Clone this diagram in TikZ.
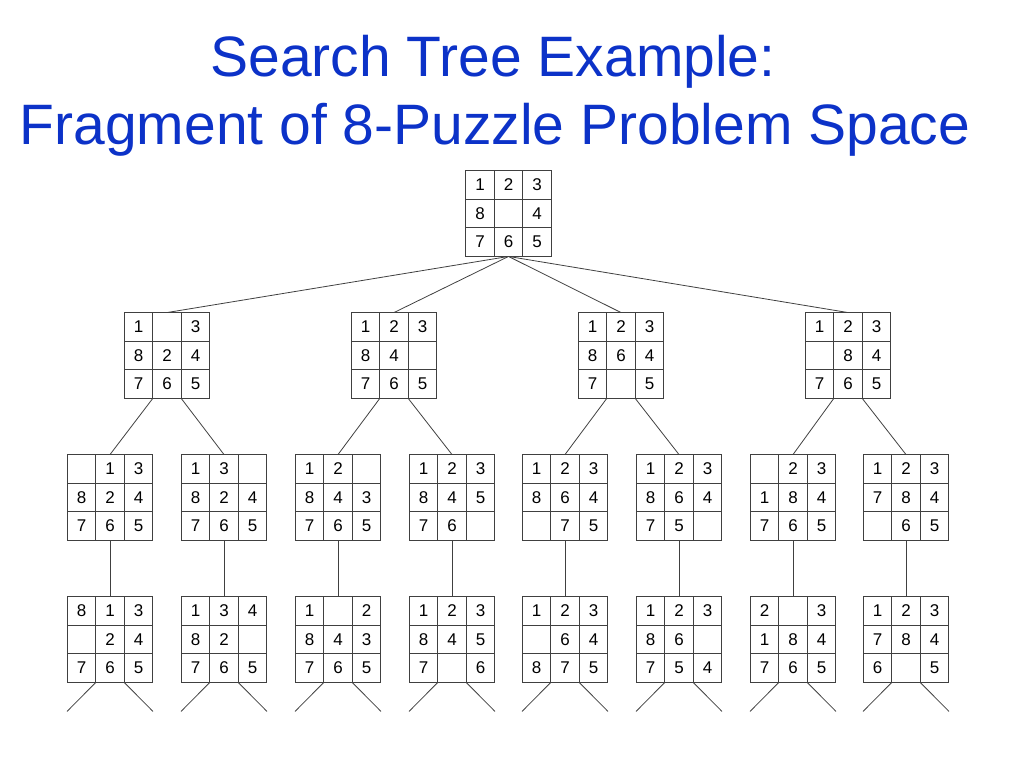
\documentclass[tikz,border=0pt]{standalone}
\usepackage{fontspec}
\setmainfont{Liberation Sans}
\usetikzlibrary{calc}
\definecolor{ttl}{RGB}{12,50,200}
\newcommand\puz[4]{%
 \node[pz] (#1) at (#2,#3) {};
 \begin{scope}[shift={(#2,#3)}]
  \draw[gl] (-42.75,-42.75) rectangle (42.75,42.75);
  \draw[gl] (-14.25,-42.75) -- (-14.25,42.75) (14.25,-42.75) -- (14.25,42.75)
            (-42.75,-14.25) -- (42.75,-14.25) (-42.75,14.25) -- (42.75,14.25);
  \foreach \v [count=\i from 0] in {#4} {
   \pgfmathtruncatemacro\c{mod(\i,3)}
   \pgfmathtruncatemacro\r{int(\i/3)}
   \node[dg] at ({(\c-1)*28.5},{(\r-1)*28.5}) {\v};
  }
 \end{scope}}
\begin{document}
\begin{tikzpicture}[x=1pt,y=-1pt,
 pz/.style={minimum size=85.5pt,inner sep=0pt},
 gl/.style={line width=0.8pt,black!75},
 dg/.style={font=\fontsize{17}{17}\selectfont,inner sep=0pt},
 cn/.style={line width=0.8pt,black!75},
 ttlf/.style={text=ttl,font=\fontsize{57}{57}\selectfont}]
\useasboundingbox (0,0) rectangle (1024,768);
\node[ttlf] (t1) at (493,62) {Search Tree Example:};
\node[ttlf] (t2) at (495,130) {Fragment of 8-Puzzle Problem Space};
\puz{r}{508.5}{213.5}{1,2,3,8,{},4,7,6,5}
\puz{a}{167}{355.5}{1,{},3,8,2,4,7,6,5}
\puz{b}{394}{355.5}{1,2,3,8,4,{},7,6,5}
\puz{c}{621}{355.5}{1,2,3,8,6,4,7,{},5}
\puz{d}{848}{355.5}{1,2,3,{},8,4,7,6,5}
\puz{a1}{110}{497.5}{{},1,3,8,2,4,7,6,5}
\puz{a2}{224}{497.5}{1,3,{},8,2,4,7,6,5}
\puz{b1}{338}{497.5}{1,2,{},8,4,3,7,6,5}
\puz{b2}{452}{497.5}{1,2,3,8,4,5,7,6,{}}
\puz{c1}{565}{497.5}{1,2,3,8,6,4,{},7,5}
\puz{c2}{679}{497.5}{1,2,3,8,6,4,7,5,{}}
\puz{d1}{793}{497.5}{{},2,3,1,8,4,7,6,5}
\puz{d2}{906}{497.5}{1,2,3,7,8,4,{},6,5}
\puz{a1x}{110}{639.5}{8,1,3,{},2,4,7,6,5}
\puz{a2x}{224}{639.5}{1,3,4,8,2,{},7,6,5}
\puz{b1x}{338}{639.5}{1,{},2,8,4,3,7,6,5}
\puz{b2x}{452}{639.5}{1,2,3,8,4,5,7,{},6}
\puz{c1x}{565}{639.5}{1,2,3,{},6,4,8,7,5}
\puz{c2x}{679}{639.5}{1,2,3,8,6,{},7,5,4}
\puz{d1x}{793}{639.5}{2,{},3,1,8,4,7,6,5}
\puz{d2x}{906}{639.5}{1,2,3,7,8,4,6,{},5}
\foreach \k in {a,b,c,d} \draw[cn] (r.south) -- (\k.north);
\foreach \p/\l/\rr in {a/a1/a2,b/b1/b2,c/c1/c2,d/d1/d2} {
 \draw[cn] ($(\p.south)+(-14.25,0)$) -- (\l.north);
 \draw[cn] ($(\p.south)+(14.25,0)$) -- (\rr.north);
}
\foreach \k in {a1,a2,b1,b2,c1,c2,d1,d2} {
 \draw[cn] (\k.south) -- (\k x.north);
 \coordinate (\k L) at ($(\k x.south)+(-43,29)$);
 \coordinate (\k R) at ($(\k x.south)+(43,29)$);
 \draw[cn] ($(\k x.south)+(-14.25,0)$) -- (\k L);
 \draw[cn] ($(\k x.south)+(14.25,0)$) -- (\k R);
}
\end{tikzpicture}
\end{document}
